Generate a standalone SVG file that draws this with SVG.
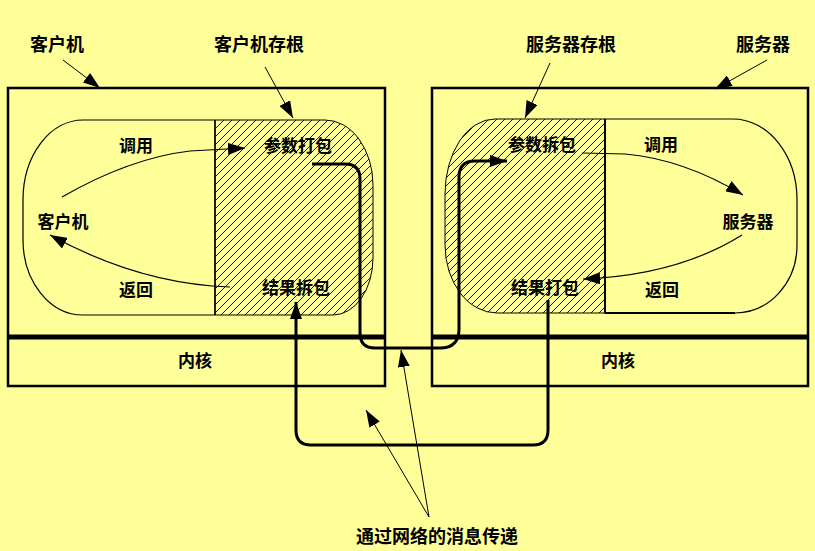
<svg xmlns="http://www.w3.org/2000/svg" width="815" height="551" viewBox="0 0 815 551">
<defs>
<pattern id="hatch" patternUnits="userSpaceOnUse" width="8" height="8">
<path d="M-2,2 L2,-2 M0,8 L8,0 M6,10 L10,6" stroke="#000" stroke-width="0.9"/>
</pattern>
<marker id="ah" markerUnits="userSpaceOnUse" markerWidth="18" markerHeight="12" refX="17" refY="6" orient="auto">
<path d="M0,0 L17,6 L0,12 z" fill="#000"/>
</marker>
<style>
text{font-family:"Noto Sans CJK SC","Noto Sans",sans-serif;font-weight:bold;fill:#000;text-anchor:middle}
.lbl{font-size:18px}
.in{font-size:17px}
.box{fill:none;stroke:#000;stroke-width:2.5}
.sep{stroke:#000;stroke-width:5}
.thin{fill:none;stroke:#000;stroke-width:1.2}
.ptr{fill:none;stroke:#000;stroke-width:1;marker-end:url(#ah)}
.flow{fill:none;stroke:#000;stroke-width:1.2;marker-end:url(#ah)}
.msg{fill:none;stroke:#000;stroke-width:3;marker-end:url(#ah)}
</style>
</defs>
<rect width="815" height="551" fill="#FFFF99"/>

<g id="client-machine">
<rect class="box" x="8" y="88" width="377" height="298"/>
<line class="sep" x1="8" y1="337" x2="385" y2="337"/>
<text class="in" x="195" y="367">内核</text>
</g>

<g id="server-machine">
<rect class="box" x="432" y="88" width="376" height="298"/>
<line class="sep" x1="432" y1="337" x2="808" y2="337"/>
<text class="in" x="618" y="367">内核</text>
</g>

<g id="client-proc">
<path class="thin" d="M215,120 L83,120 A60,80 0 0 0 23,200 L23,240 A60,75 0 0 0 83,315 L215,315"/>
<text class="in" x="63" y="228">客户机</text>
<text class="in" x="136" y="152">调用</text>
<text class="in" x="136" y="296">返回</text>
</g>

<g id="client-stub">
<path d="M215,120 L325,120 A48,65 0 0 1 373,185 L373,258 A40,57 0 0 1 333,315 L215,315 z" fill="url(#hatch)" stroke="#000" stroke-width="1"/>
<line x1="215" y1="120" x2="215" y2="315" stroke="#000" stroke-width="1.5"/>
<text class="in" x="298" y="152">参数打包</text>
<text class="in" x="296" y="294">结果拆包</text>
</g>

<g id="server-stub">
<path d="M605,119 L495,119 A50,75 0 0 0 445,194 L445,245 A52,68 0 0 0 497,313 L605,313 z" fill="url(#hatch)" stroke="#000" stroke-width="1"/>
<text class="in" x="542" y="151">参数拆包</text>
<text class="in" x="545" y="294">结果打包</text>
</g>

<g id="server-proc">
<path d="M605,119 L733,119 A64,81 0 0 1 797,200 L797,245 A62,68 0 0 1 735,313 L605,313 z" fill="none" stroke="#000" stroke-width="1.2"/>
<line x1="605" y1="119" x2="605" y2="313" stroke="#000" stroke-width="2"/>
<line x1="605" y1="313" x2="735" y2="313" stroke="#000" stroke-width="2"/>
<text class="in" x="748" y="228">服务器</text>
<text class="in" x="661" y="151">调用</text>
<text class="in" x="662" y="296">返回</text>
</g>

<g id="labels">
<text class="lbl" x="57" y="51">客户机</text>
<text class="lbl" x="259" y="51">客户机存根</text>
<text class="lbl" x="571" y="51">服务器存根</text>
<text class="lbl" x="763" y="51">服务器</text>
<text class="lbl" x="437" y="543">通过网络的消息传递</text>
</g>

<g id="connectors">
<path class="ptr" d="M63,60 L100,88"/>
<path class="ptr" d="M265,67 L293,118"/>
<path class="ptr" d="M550,63 L525,118"/>
<path class="ptr" d="M767,60 L715,89"/>
<path class="flow" d="M62,197 Q130,158 190,151 L245,148"/>
<path class="flow" d="M230,287 C170,285 110,268 50,235"/>
<path class="flow" d="M582,153 L625,154 C670,158 710,175 743,195"/>
<path class="flow" d="M742,235 C710,255 660,276 583,279"/>
<path class="msg" d="M312,164 L345,164 Q360,164 360,179 L360,333 Q360,348 375,348 L440,348 Q459,348 459,329 L459,177 Q459,161 475,161 L507,161"/>
<path class="msg" d="M548,300 L548,430 Q548,445 533,445 L311,445 Q296,445 296,430 L296,302"/>
<path class="ptr" d="M429,517 L366,410"/>
<path class="ptr" d="M429,517 L401,350"/>
</g>
</svg>
